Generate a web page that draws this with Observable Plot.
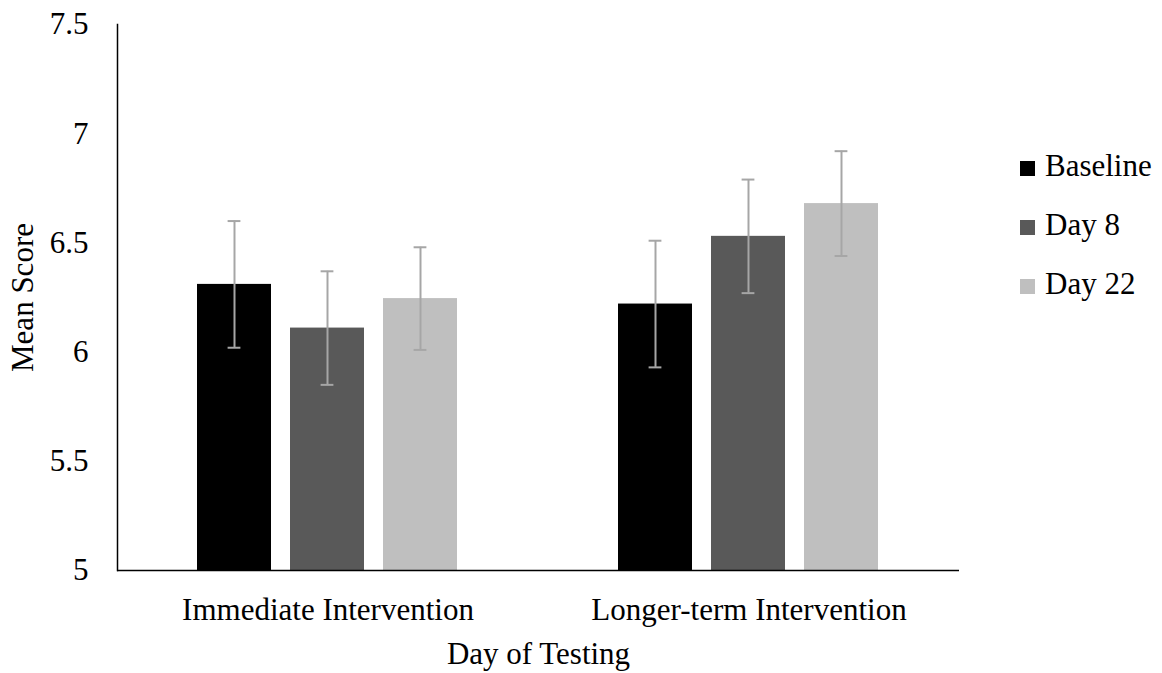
<!DOCTYPE html>
<html>
<head>
<meta charset="utf-8">
<script src="https://cdn.jsdelivr.net/npm/d3@7"></script>
<script src="https://cdn.jsdelivr.net/npm/@observablehq/plot@0.6"></script>
<style>
  html, body { margin: 0; padding: 0; background: #fff; }
  #wrap { position: relative; width: 1162px; height: 673px; font-family: "Liberation Serif", "Times New Roman", serif; }
  #legend { position: absolute; left: 1020px; top: 148px; font-size: 31px; color: #000; }
  .item { display: flex; align-items: baseline; height: 59px; }
  .sw { width: 15px; height: 15px; margin-right: 10px; }
</style>
</head>
<body>
<div id="wrap"><div id="legend"></div></div>
<script>
const groups = ["Immediate Intervention", "Longer-term Intervention"];
const series = ["Baseline", "Day 8", "Day 22"];
const meansImmediate = [6.31, 6.11, 6.245];
const meansLonger = [6.22, 6.53, 6.68];
const errImmediate = [0.29, 0.26, 0.235];
const errLonger = [0.29, 0.26, 0.24];
const yTicks = [5, 5.5, 6, 6.5, 7, 7.5];
const colors = ["#000000", "#595959", "#bfbfbf"];

const data = [];
[[meansImmediate, errImmediate], [meansLonger, errLonger]].forEach(([m, e], gi) => {
  series.forEach((s, si) => {
    data.push({group: groups[gi], series: s, value: m[si], lo: m[si] - e[si], hi: m[si] + e[si]});
  });
});

const chart = Plot.plot({
  width: 1162,
  height: 673,
  marginLeft: 116,
  marginRight: 203,
  marginTop: 24,
  marginBottom: 103,
  style: {fontFamily: "Liberation Serif, Times New Roman, serif", fontSize: "31px", color: "#000", background: "#fff", overflow: "visible"},
  fx: {domain: groups, padding: 0, label: "Day of Testing", labelAnchor: "center", labelOffset: 93, tickSize: 0, tickPadding: 27},
  x: {domain: series, paddingInner: 0.204, paddingOuter: 0.86, axis: null},
  y: {domain: [5, 7.5]},
  color: {domain: series, range: colors},
  marks: [
    Plot.barY(data, {fx: "group", x: "series", y1: () => 5, y2: "value", fill: "series"}),
    Plot.ruleX(data, {fx: "group", x: "series", y1: "lo", y2: "hi", stroke: "#a6a6a6", strokeWidth: 2}),
    Plot.tickY(data, {fx: "group", x: "series", y: "hi", stroke: "#a6a6a6", strokeWidth: 2, insetLeft: 30.6, insetRight: 30.6}),
    Plot.tickY(data, {fx: "group", x: "series", y: "lo", stroke: "#a6a6a6", strokeWidth: 2, insetLeft: 30.6, insetRight: 30.6}),
    Plot.ruleY([5], {stroke: "#000", strokeWidth: 1.5}),
    Plot.frame({anchor: "left", facet: "super", stroke: "#000", strokeWidth: 1.5}),
    Plot.axisY({ticks: yTicks, tickFormat: d => String(d), tickSize: 0, tickPadding: 29, label: null}),
    Plot.text(["Mean Score"], {fx: () => groups[0], text: d => d, frameAnchor: "left", textAnchor: "middle", rotate: -90, dx: -94, fill: "#000"})
  ]
});
document.getElementById("wrap").prepend(chart);

const legend = document.getElementById("legend");
series.forEach((s, i) => {
  const item = document.createElement("div");
  item.className = "item";
  const sw = document.createElement("div");
  sw.className = "sw";
  sw.style.background = colors[i];
  const t = document.createElement("span");
  t.textContent = s;
  item.appendChild(sw);
  item.appendChild(t);
  legend.appendChild(item);
});
</script>
</body>
</html>
